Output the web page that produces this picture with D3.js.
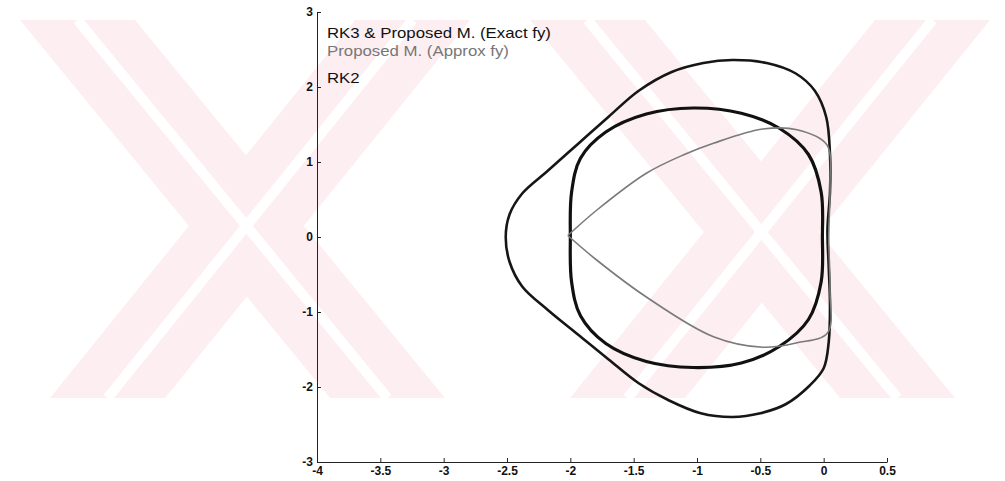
<!DOCTYPE html>
<html>
<head>
<meta charset="utf-8">
<script src="https://cdn.jsdelivr.net/npm/d3@7"></script>
<style>
  body { margin: 0; background: #fff; }
  text { font-family: "Liberation Sans", Arial, sans-serif; }
</style>
</head>
<body>
<script>
// phase portrait: three closed trajectories, MATLAB style axes

var xTicks = [-4, -3.5, -3, -2.5, -2, -1.5, -1, -0.5, 0, 0.5];
var yTicks = [-3, -2, -1, 0, 1, 2, 3];

var legendLabels = [
  "RK3 & Proposed M. (Exact fy)",
  "Proposed M. (Approx fy)",
  "RK2"
];

// outer loop
var rk2 = [
  [-2.51, 0.0], [-2.48, 0.3], [-2.38, 0.58], [-2.18, 0.88], [-1.94, 1.24],
  [-1.7, 1.6], [-1.46, 1.95], [-1.2, 2.2], [-0.95, 2.32], [-0.72, 2.36],
  [-0.45, 2.32], [-0.22, 2.18], [-0.07, 1.95], [0.02, 1.6], [0.05, 1.1],
  [0.05, 0.6], [0.03, 0.1], [0.04, -0.4], [0.05, -0.9], [0.04, -1.4],
  [0.0, -1.75], [-0.11, -1.98], [-0.3, -2.23], [-0.5, -2.35], [-0.72, -2.4],
  [-0.97, -2.35], [-1.22, -2.18], [-1.46, -1.95], [-1.7, -1.63], [-1.94, -1.3],
  [-2.18, -0.97], [-2.38, -0.66], [-2.48, -0.33]
];

// middle loop
var rk3 = [
  [-2.0, 0.0], [-1.99, 0.6], [-1.92, 1.05], [-1.72, 1.4], [-1.4, 1.64],
  [-1.03, 1.72], [-0.65, 1.65], [-0.35, 1.45], [-0.12, 1.1], [-0.02, 0.6],
  [-0.01, 0.0], [-0.02, -0.6], [-0.12, -1.1], [-0.35, -1.46], [-0.65, -1.68],
  [-1.03, -1.74], [-1.4, -1.66], [-1.72, -1.42], [-1.92, -1.05], [-1.99, -0.6]
];

// grey heart-shaped curve (starts and ends at the cusp)
var approx = [
  [-2.02, 0.02], [-1.79, 0.36], [-1.4, 0.85], [-1.1, 1.1], [-0.87, 1.25],
  [-0.48, 1.44], [-0.21, 1.43], [0.025, 1.23], [0.05, 0.7], [0.04, 0.0],
  [0.05, -0.7], [0.03, -1.28], [-0.21, -1.41], [-0.48, -1.47], [-0.87, -1.33],
  [-1.4, -0.8], [-1.79, -0.31], [-2.02, 0.02]
];

var width = 1005, height = 481;

var svg = d3.select("body").append("svg")
  .attr("width", width)
  .attr("height", height);

// faint pink watermark behind the plot
var wm = svg.append("g").attr("fill", "#fdeef1");
var arms = [
  [[20, 20], [135, 20], [445, 398], [330, 398]],
  [[355, 20], [470, 20], [165, 398], [50, 398]],
  [[530, 20], [645, 20], [955, 398], [840, 398]],
  [[875, 20], [990, 20], [685, 398], [570, 398]]
];
arms.forEach(function (p) {
  wm.append("polygon").attr("points", p.join(" "));
});
var gaps = svg.append("g").attr("stroke", "#fff").attr("stroke-width", 10);
arms.forEach(function (p) {
  gaps.append("line")
    .attr("x1", (p[0][0] + p[1][0]) / 2).attr("y1", 20)
    .attr("x2", (p[2][0] + p[3][0]) / 2).attr("y2", 398);
});

var x = d3.scaleLinear().domain([-4, 0.5]).range([317, 887]);
var y = d3.scaleLinear().domain([-3, 3]).range([462, 12]);

var xAxis = svg.append("g")
  .attr("transform", "translate(0," + y(-3) + ")")
  .call(d3.axisBottom(x).tickValues(xTicks).tickSize(-4).tickSizeOuter(0)
    .tickPadding(4).tickFormat(function (d) { return String(d); }));

var yAxis = svg.append("g")
  .attr("transform", "translate(" + x(-4) + ",0)")
  .call(d3.axisLeft(y).tickValues(yTicks).tickSize(-4).tickSizeOuter(0)
    .tickPadding(4).tickFormat(function (d) { return String(d); }));

[xAxis, yAxis].forEach(function (g) {
  g.select(".domain").attr("stroke", "#222");
  g.selectAll(".tick line").attr("stroke", "#222");
  g.selectAll("text")
    .attr("fill", "#111")
    .style("font-size", "12px")
    .style("font-weight", "bold");
});

var line = d3.line()
  .x(function (d) { return x(d[0]); })
  .y(function (d) { return y(d[1]); });

svg.append("path")
  .attr("d", line.curve(d3.curveCatmullRomClosed)(rk2))
  .attr("fill", "none")
  .attr("stroke", "#161616")
  .attr("stroke-width", 2.6);

svg.append("path")
  .attr("d", line.curve(d3.curveCatmullRomClosed)(rk3))
  .attr("fill", "none")
  .attr("stroke", "#111")
  .attr("stroke-width", 3.2);

svg.append("path")
  .attr("d", line.curve(d3.curveCatmullRom)(approx))
  .attr("fill", "none")
  .attr("stroke", "#7a7a7a")
  .attr("stroke-width", 1.6);

// legend text, top left inside the axes
var legendY = [38, 56, 83];
var legendFill = ["#111", "#777", "#111"];
legendLabels.forEach(function (t, i) {
  svg.append("text")
    .attr("transform", "translate(327," + legendY[i] + ") scale(1.2,1)")
    .attr("fill", legendFill[i])
    .style("font-size", "14px")
    .text(t);
});
</script>
</body>
</html>
